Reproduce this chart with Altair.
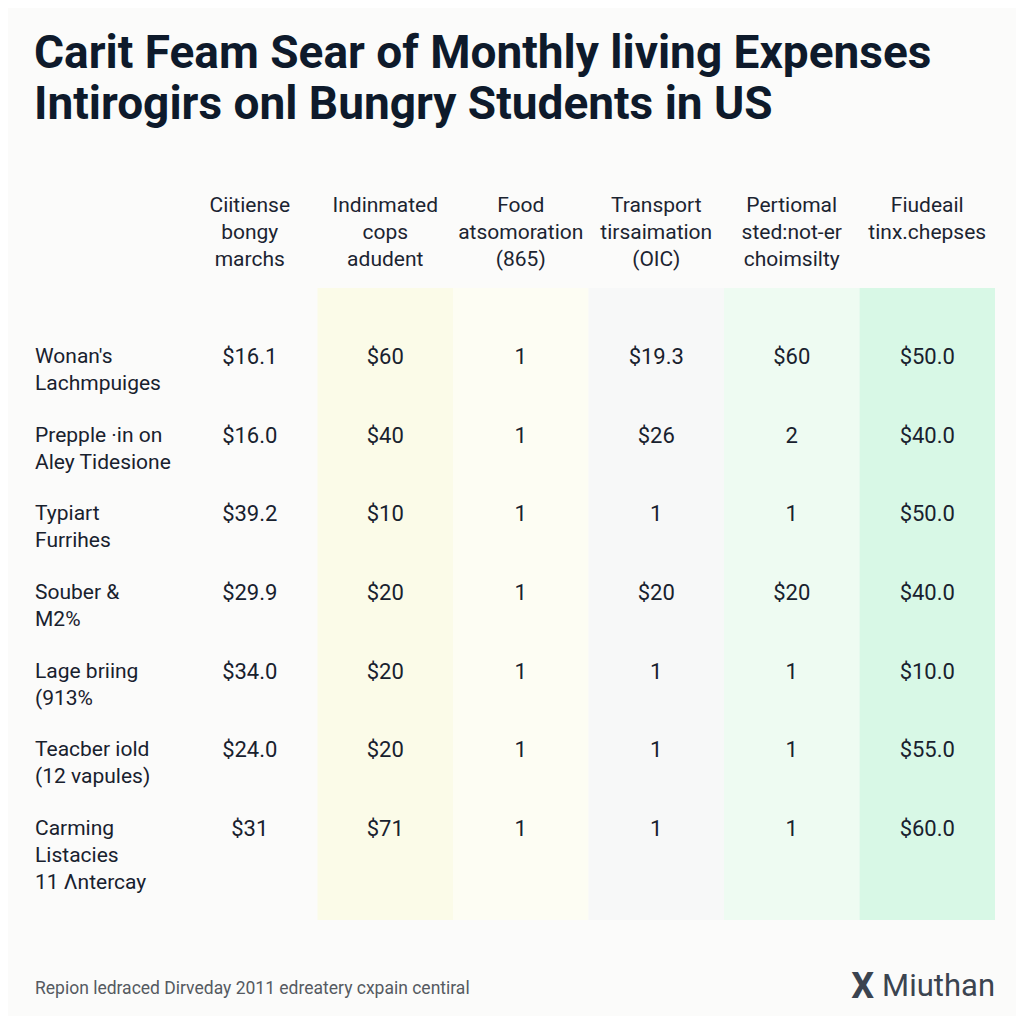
import altair as alt
import pandas as pd

# ---------------- data ----------------
title_lines = [
    "Carit Feam Sear of Monthly living Expenses",
    "Intirogirs onl Bungry Students in US",
]
col_keys = ["c1", "c2", "c3", "c4", "c5", "c6"]
col_headers = [
    "Ciitiense\nbongy\nmarchs",
    "Indinmated\ncops\nadudent",
    "Food\natsomoration\n(865)",
    "Transport\ntirsaimation\n(OIC)",
    "Pertiomal\nsted:not-er\nchoimsilty",
    "Fiudeail\ntinx.chepses",
]
col_fills = ["#fbfbfa", "#fbfbe8", "#fdfdf3", "#f7f8f8", "#eefbf2", "#d8f8e6"]

row_keys = ["r1", "r2", "r3", "r4", "r5", "r6", "r7"]
row_labels = [
    "Wonan's\nLachmpuiges",
    "Prepple ·in on\nAley Tidesione",
    "Typiart\nFurrihes",
    "Souber &\nM2%",
    "Lage briing\n(913%",
    "Teacber iold\n(12 vapules)",
    "Carming\nListacies\n11 Λntercay",
]
col1_values = ["$16.1", "$16.0", "$39.2", "$29.9", "$34.0", "$24.0", "$31"]
col2_values = ["$60", "$40", "$10", "$20", "$20", "$20", "$71"]
col3_values = ["1", "1", "1", "1", "1", "1", "1"]
col4_values = ["$19.3", "$26", "1", "$20", "1", "1", "1"]
col5_values = ["$60", "2", "1", "$20", "1", "1", "1"]
col6_values = ["$50.0", "$40.0", "$50.0", "$40.0", "$10.0", "$55.0", "$60.0"]

footer_text = "Repion ledraced Dirveday 2011 edreatery cxpain centiral"
logo_icon = "X"
logo_text = "Miuthan"

# ---------------- tables ----------------
all_cols = [col1_values, col2_values, col3_values, col4_values, col5_values, col6_values]
cells = pd.DataFrame(
    [
        {"col": ck, "row": rk, "val": vals[i]}
        for ck, vals in zip(col_keys, all_cols)
        for i, rk in enumerate(row_keys)
    ]
)
cols_df = pd.DataFrame({"col": col_keys, "header": col_headers, "fill": col_fills})
rows_df = pd.DataFrame({"row": row_keys, "label": row_labels})

xs = alt.Scale(type="band", domain=col_keys, range=[174, 987], paddingInner=0, paddingOuter=0)
ys = alt.Scale(type="band", domain=row_keys, range=[310, 860], paddingInner=0, paddingOuter=0)

X = alt.X("col:N", scale=xs, axis=None)
Y = alt.Y("row:N", scale=ys, axis=None)

bg = alt.Chart(cols_df).mark_rect().encode(
    x=X,
    y=alt.value(280),
    y2=alt.value(912),
    color=alt.Color("fill:N", scale=None, legend=None),
)

headers = alt.Chart(cols_df).mark_text(
    font="Roboto", fontSize=21, lineBreak="\n", lineHeight=27,
    align="center", baseline="alphabetic", color="#1b2431",
).encode(x=X, y=alt.value(204), text="header:N")

values = alt.Chart(cells).mark_text(
    font="Roboto", fontSize=22, align="center", baseline="middle", color="#18212e",
).encode(x=X, y=Y, text="val:N")

labels = alt.Chart(rows_df).mark_text(
    font="Roboto", fontSize=21, lineBreak="\n", lineHeight=27,
    align="left", baseline="middle", color="#18212e",
).encode(x=alt.value(27), y=Y, text="label:N")

title = alt.Chart(pd.DataFrame({"t": ["\n".join(title_lines)]})).mark_text(
    font="Roboto", fontSize=46, fontWeight="bold", lineBreak="\n", lineHeight=51,
    align="left", baseline="alphabetic", color="#0e1a2b",
).encode(x=alt.value(26), y=alt.value(60), text="t:N")

footer = alt.Chart(pd.DataFrame({"t": [footer_text]})).mark_text(
    font="Roboto", fontSize=17.5, align="left", baseline="alphabetic", color="#555a61",
).encode(x=alt.value(27), y=alt.value(986), text="t:N")

logo = alt.Chart(pd.DataFrame({"t": [logo_text]})).mark_text(
    font="Roboto", fontSize=31, align="right", baseline="alphabetic", color="#3b4450",
).encode(x=alt.value(987), y=alt.value(988), text="t:N")

logo_mark = alt.Chart(pd.DataFrame({"t": [logo_icon]})).mark_text(
    font="Roboto", fontSize=36, fontWeight="bold", align="right", baseline="alphabetic", color="#3b4450",
).encode(x=alt.value(866), y=alt.value(990), text="t:N")

chart = (
    alt.layer(bg, headers, values, labels, title, footer, logo, logo_mark)
    .properties(width=1008, height=1008, padding=0, autosize="none", background="#fbfbfa")
    .configure_view(stroke=None)
)

chart.save("out.html", embed_options={"renderer": "svg", "actions": False})
